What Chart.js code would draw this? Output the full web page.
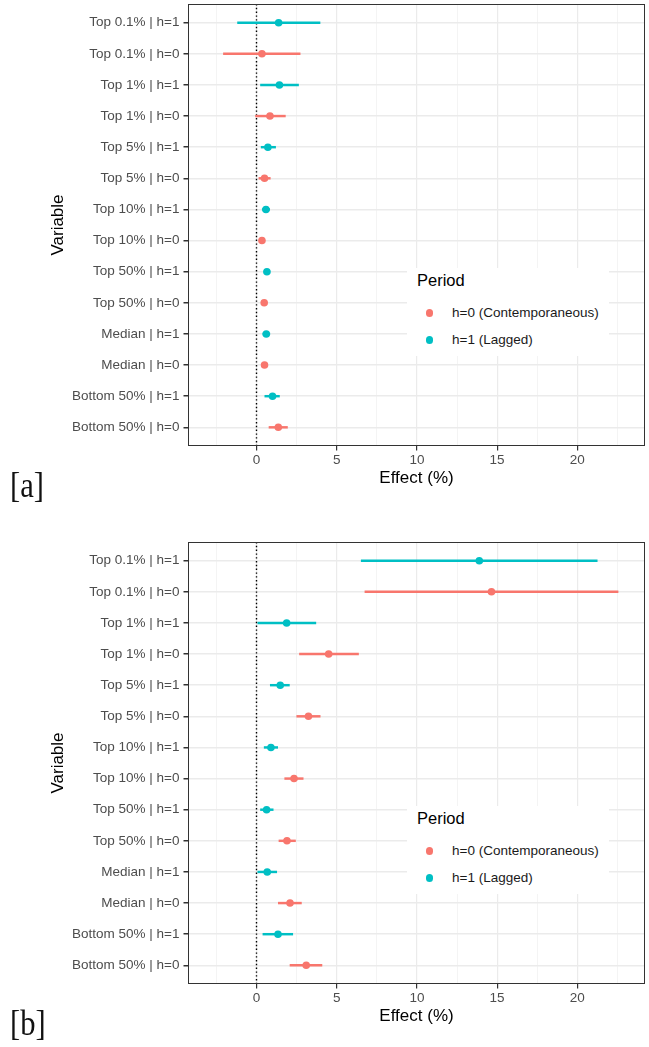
<!DOCTYPE html>
<html>
<head>
<meta charset="utf-8">
<script src="https://cdn.jsdelivr.net/npm/chart.js@4.4.1/dist/chart.umd.min.js"></script>
<style>
    body { margin: 0; background: #fff; width: 649px; height: 1047px; position: relative; overflow: hidden; font-family: "Liberation Sans", Arial, sans-serif; }
    .panel { position: absolute; left: 0; width: 649px; height: 500px; }
    .legend { position: absolute; left: 407px; width: 202px; height: 88px; background: #fff; }
    .legend .ttl { position: absolute; left: 10px; top: 3px; font-size: 16.5px; color: #000; }
    .legend .item { position: absolute; left: 45px; font-size: 13.5px; color: #1a1a1a; line-height: 16px; }
    .legend .dot { position: absolute; left: 18.5px; width: 7.5px; height: 7.5px; border-radius: 50%; }
    .tag { position: absolute; left: 10px; font-family: "Liberation Serif", "DejaVu Serif", serif; font-size: 36px; transform: scaleX(0.85); transform-origin: left; color: #111; }
</style>
</head>
<body>

<div class="panel" style="top:0px"><canvas id="chartA" width="649" height="500"></canvas></div>
<div class="panel" style="top:538px"><canvas id="chartB" width="649" height="500"></canvas></div>

<div class="legend" style="top:268px">
    <div class="ttl">Period</div>
    <div class="dot" style="top:41px;background:#F8766D"></div>
    <div class="item" style="top:37px">h=0 (Contemporaneous)</div>
    <div class="dot" style="top:68px;background:#00BFC4"></div>
    <div class="item" style="top:64px">h=1 (Lagged)</div>
</div>
<div class="legend" style="top:806px">
    <div class="ttl">Period</div>
    <div class="dot" style="top:41px;background:#F8766D"></div>
    <div class="item" style="top:37px">h=0 (Contemporaneous)</div>
    <div class="dot" style="top:68px;background:#00BFC4"></div>
    <div class="item" style="top:64px">h=1 (Lagged)</div>
</div>

<div class="tag" style="top:464px">[a]</div>
<div class="tag" style="top:1002px">[b]</div>

<script>
// rows, top to bottom
const rowLabels = ["Top 0.1% | h=1", "Top 0.1% | h=0", "Top 1% | h=1", "Top 1% | h=0",
    "Top 5% | h=1", "Top 5% | h=0", "Top 10% | h=1", "Top 10% | h=0",
    "Top 50% | h=1", "Top 50% | h=0", "Median | h=1", "Median | h=0",
    "Bottom 50% | h=1", "Bottom 50% | h=0"];
const rowPeriod = [1, 0, 1, 0, 1, 0, 1, 0, 1, 0, 1, 0, 1, 0];
const periodNames = ["h=0 (Contemporaneous)", "h=1 (Lagged)"];
const periodColors = ["#F8766D", "#00BFC4"];

// panel [a]
const estA = [1.38, 0.34, 1.43, 0.84, 0.71, 0.50, 0.59, 0.34, 0.65, 0.48, 0.61, 0.50, 1.00, 1.36];
const lowA = [-1.18, -2.06, 0.25, -0.06, 0.29, 0.15, 0.36, 0.20, 0.47, 0.32, 0.40, 0.32, 0.52, 0.78];
const highA = [3.96, 2.72, 2.62, 1.80, 1.19, 0.86, 0.82, 0.48, 0.83, 0.64, 0.83, 0.68, 1.43, 1.93];

// panel [b]
const estB = [13.89, 14.65, 1.88, 4.50, 1.48, 3.24, 0.90, 2.34, 0.63, 1.90, 0.67, 2.09, 1.34, 3.10];
const lowB = [6.53, 6.76, 0.08, 2.68, 0.86, 2.51, 0.48, 1.76, 0.25, 1.40, 0.08, 1.36, 0.40, 2.09];
const highB = [21.24, 22.54, 3.70, 6.36, 2.05, 3.97, 1.32, 2.91, 1.04, 2.43, 1.26, 2.80, 2.26, 4.08];

const xTicks = [-2.5, 0, 2.5, 5, 7.5, 10, 12.5, 15, 17.5, 20, 22.5];
const xMin = -4.27;
const xMax = 24.22;
const zeroLine = 0;

const panelBorder = {
    id: "panelBorder",
    afterDatasetsDraw(chart) {
        const a = chart.chartArea;
        const ctx = chart.ctx;
        ctx.save();
        ctx.strokeStyle = "#333333";
        ctx.lineWidth = 1;
        ctx.strokeRect(Math.round(a.left) + 0.5, Math.round(a.top) + 0.5,
            Math.round(a.right - a.left) - 1, Math.round(a.bottom - a.top) - 1);
        ctx.restore();
    }
};

function isMajor(v) {
    return Math.abs(v % 5) < 1e-9;
}

function makeChart(canvasId, est, low, high) {
    const datasets = [];

    datasets.push({
        type: "line",
        data: [{ x: zeroLine, y: 0.4 }, { x: zeroLine, y: 14.6 }],
        borderColor: "#000000",
        borderWidth: 1.4,
        borderDash: [1.4, 2.4],
        pointRadius: 0,
        order: 3
    });

    for (let p = 0; p < 2; p++) {
        const bars = [];
        const pts = [];
        for (let i = 0; i < rowLabels.length; i++) {
            if (rowPeriod[i] !== p) continue;
            bars.push({ y: i + 1, x: [low[i], high[i]] });
            pts.push({ y: i + 1, x: est[i] });
        }
        datasets.push({
            type: "bar",
            label: periodNames[p],
            data: bars,
            backgroundColor: periodColors[p],
            borderWidth: 0,
            barThickness: 1.8,
            grouped: false,
            order: 2
        });
        datasets.push({
            type: "scatter",
            label: periodNames[p],
            data: pts,
            backgroundColor: periodColors[p],
            borderWidth: 0,
            pointRadius: 3.8,
            order: 1
        });
    }

    return new Chart(document.getElementById(canvasId), {
        type: "bar",
        data: { datasets: datasets },
        options: {
            indexAxis: "y",
            responsive: false,
            animation: false,
            layout: { padding: { top: 2, right: 4, bottom: 10, left: 0 } },
            plugins: { legend: { display: false }, tooltip: { enabled: false } },
            scales: {
                x: {
                    type: "linear",
                    min: xMin,
                    max: xMax,
                    offset: false,
                    afterBuildTicks: function (scale) {
                        scale.ticks = xTicks.map(v => ({ value: v }));
                    },
                    afterFit: function (scale) {
                        scale.height = 44;
                        scale.paddingLeft = 0;
                        scale.paddingRight = 0;
                    },
                    border: { display: false },
                    grid: {
                        offset: false,
                        color: ctx => isMajor(ctx.tick.value) ? "#EBEBEB" : "#F4F4F4",
                        lineWidth: ctx => isMajor(ctx.tick.value) ? 1.2 : 1,
                        tickColor: ctx => isMajor(ctx.tick.value) ? "#333333" : "rgba(0,0,0,0)",
                        tickLength: 4.5
                    },
                    ticks: {
                        callback: v => isMajor(v) ? String(v) : "",
                        color: "#4D4D4D",
                        font: { family: "Liberation Sans", size: 13.5 },
                        padding: 2,
                        maxRotation: 0,
                        autoSkip: false
                    },
                    title: {
                        display: true,
                        text: "Effect (%)",
                        color: "#000000",
                        font: { family: "Liberation Sans", size: 17 },
                        padding: { top: 0, bottom: 1 }
                    }
                },
                y: {
                    type: "linear",
                    reverse: true,
                    min: 0.4,
                    max: 14.6,
                    offset: false,
                    afterBuildTicks: function (scale) {
                        scale.ticks = rowLabels.map((_, i) => ({ value: i + 1 }));
                    },
                    afterFit: function (scale) {
                        scale.width = 188;
                        scale.paddingTop = 0;
                        scale.paddingBottom = 0;
                    },
                    border: { display: false },
                    grid: {
                        offset: false,
                        color: "#EBEBEB",
                        lineWidth: 1.5,
                        tickColor: "#333333",
                        tickLength: 4.5
                    },
                    ticks: {
                        callback: v => rowLabels[Math.round(v) - 1],
                        color: "#4D4D4D",
                        font: { family: "Liberation Sans", size: 13.5 },
                        padding: 4,
                        autoSkip: false
                    },
                    title: {
                        display: true,
                        text: "Variable",
                        color: "#000000",
                        font: { family: "Liberation Sans", size: 17 },
                        padding: { top: 48, bottom: 0 }
                    }
                }
            }
        },
        plugins: [panelBorder]
    });
}

makeChart("chartA", estA, lowA, highA);
makeChart("chartB", estB, lowB, highB);
</script>
</body>
</html>
